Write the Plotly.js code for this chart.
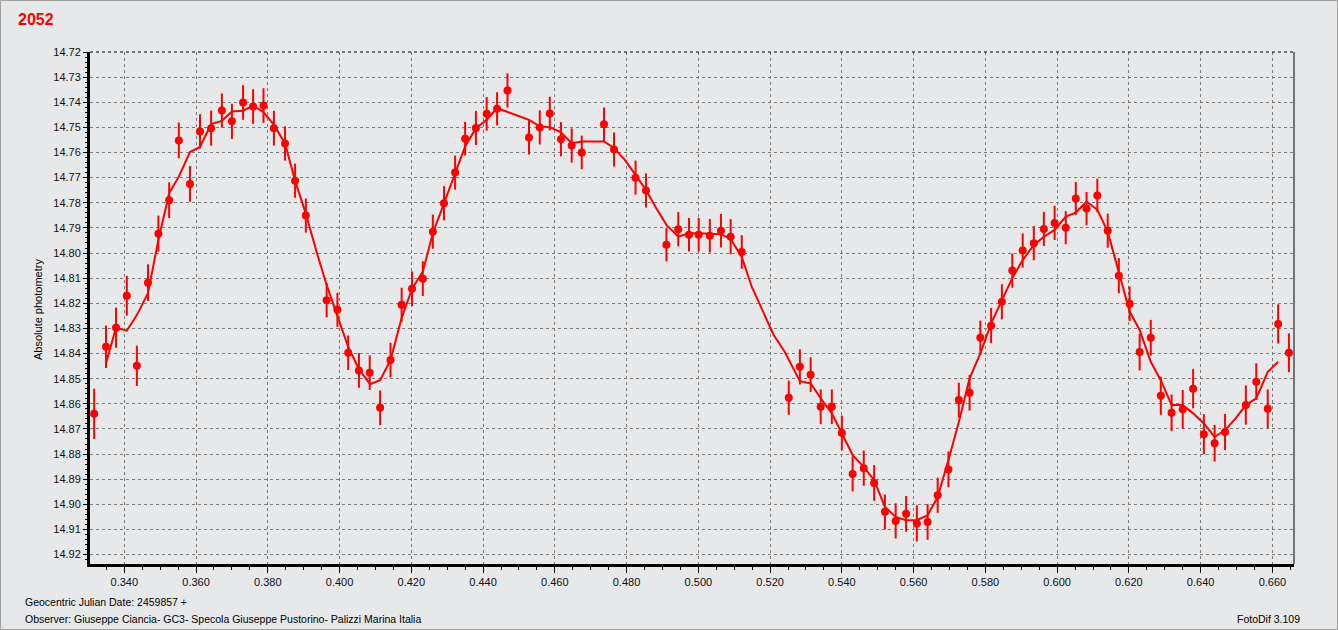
<!DOCTYPE html>
<html>
<head>
<meta charset="utf-8">
<script src="https://cdn.plot.ly/plotly-3.0.1.min.js"></script>
<style>
  html, body { margin: 0; padding: 0; background: #E7E8EA; }
  #chart { width: 1338px; height: 630px; }
</style>
</head>
<body>
<div id="chart"></div>
<script>
// Observed magnitudes (Geocentric JD - 2459857)
const obsJD = [
  0.3316, 0.3349, 0.3377, 0.3407, 0.3435, 0.3466, 0.3495, 0.3525, 0.3552, 0.3583,
  0.3611, 0.3642, 0.3672, 0.3700, 0.3731, 0.3759, 0.3788, 0.3817, 0.3848, 0.3876,
  0.3906, 0.3964, 0.3994, 0.4024, 0.4054, 0.4084, 0.4113, 0.4142, 0.4173, 0.4202,
  0.4232, 0.4260, 0.4291, 0.4322, 0.4350, 0.4380, 0.4410, 0.4439, 0.4468, 0.4528,
  0.4558, 0.4586, 0.4617, 0.4647, 0.4675, 0.4737, 0.4765, 0.4825, 0.4854, 0.4911,
  0.4944, 0.4974, 0.5001, 0.5032, 0.5063, 0.5090, 0.5121, 0.5252, 0.5283, 0.5313,
  0.5341, 0.5372, 0.5400, 0.5430, 0.5461, 0.5490, 0.5520, 0.5550, 0.5579, 0.5609,
  0.5639, 0.5667, 0.5697, 0.5726, 0.5756, 0.5786, 0.5816, 0.5846, 0.5875, 0.5904,
  0.5935, 0.5963, 0.5993, 0.6024, 0.6052, 0.6082, 0.6112, 0.6141, 0.6172, 0.6202,
  0.6230, 0.6261, 0.6289, 0.6319, 0.6350, 0.6379, 0.6409, 0.6439, 0.6468, 0.6526,
  0.6555, 0.6587, 0.6616, 0.6646
];
const obsMag = [
  14.8640, 14.8373, 14.8297, 14.8170, 14.8449, 14.8118, 14.7923, 14.7790, 14.7552, 14.7725,
  14.7516, 14.7503, 14.7433, 14.7476, 14.7401, 14.7417, 14.7413, 14.7503, 14.7564, 14.7712,
  14.7851, 14.8188, 14.8226, 14.8397, 14.8467, 14.8476, 14.8616, 14.8426, 14.8206, 14.8142,
  14.8102, 14.7915, 14.7802, 14.7680, 14.7545, 14.7502, 14.7446, 14.7426, 14.7353, 14.7540,
  14.7500, 14.7445, 14.7547, 14.7572, 14.7600, 14.7488, 14.7588, 14.7700, 14.7751, 14.7967,
  14.7905, 14.7927, 14.7927, 14.7931, 14.7911, 14.7935, 14.7996, 14.8576, 14.8453, 14.8484,
  14.8612, 14.8612, 14.8716, 14.8879, 14.8856, 14.8915, 14.9030, 14.9066, 14.9038, 14.9076,
  14.9070, 14.8964, 14.8861, 14.8585, 14.8556, 14.8337, 14.8289, 14.8194, 14.8070, 14.7990,
  14.7961, 14.7904, 14.7880, 14.7899, 14.7783, 14.7823, 14.7771, 14.7911, 14.8090, 14.8202,
  14.8394, 14.8337, 14.8568, 14.8636, 14.8622, 14.8540, 14.8721, 14.8757, 14.8712, 14.8605,
  14.8512, 14.8620, 14.8282, 14.8397
];
const obsErr = [
  0.0100, 0.0085, 0.0080, 0.0079, 0.0080, 0.0073, 0.0072, 0.0071, 0.0071, 0.0071,
  0.0068, 0.0070, 0.0068, 0.0070, 0.0069, 0.0069, 0.0069, 0.0069, 0.0068, 0.0068,
  0.0068, 0.0068, 0.0068, 0.0069, 0.0069, 0.0069, 0.0069, 0.0069, 0.0068, 0.0069,
  0.0069, 0.0068, 0.0068, 0.0068, 0.0067, 0.0068, 0.0067, 0.0066, 0.0068, 0.0068,
  0.0068, 0.0067, 0.0068, 0.0068, 0.0067, 0.0067, 0.0068, 0.0068, 0.0068, 0.0066,
  0.0068, 0.0067, 0.0067, 0.0067, 0.0067, 0.0070, 0.0067, 0.0068, 0.0070, 0.0069,
  0.0069, 0.0069, 0.0069, 0.0070, 0.0070, 0.0071, 0.0069, 0.0070, 0.0071, 0.0072,
  0.0071, 0.0070, 0.0071, 0.0069, 0.0071, 0.0068, 0.0070, 0.0070, 0.0068, 0.0068,
  0.0068, 0.0068, 0.0068, 0.0066, 0.0066, 0.0066, 0.0067, 0.0068, 0.0070, 0.0069,
  0.0073, 0.0071, 0.0076, 0.0073, 0.0077, 0.0078, 0.0080, 0.0073, 0.0072, 0.0078,
  0.0073, 0.0077, 0.0078, 0.0077
];

// Smoothed light curve
const fitJD = [
  0.3349, 0.3377, 0.3407, 0.3435, 0.3466, 0.3495, 0.3525, 0.3552, 0.3583, 0.3611,
  0.3642, 0.3672, 0.3700, 0.3731, 0.3759, 0.3788, 0.3817, 0.3848, 0.3876, 0.3906,
  0.3936, 0.3964, 0.3994, 0.4024, 0.4054, 0.4085, 0.4113, 0.4142, 0.4173, 0.4202,
  0.4232, 0.4260, 0.4291, 0.4322, 0.4350, 0.4380, 0.4410, 0.4439, 0.4468, 0.4497,
  0.4528, 0.4558, 0.4586, 0.4617, 0.4647, 0.4675, 0.4706, 0.4737, 0.4765, 0.4795,
  0.4825, 0.4854, 0.4882, 0.4911, 0.4944, 0.4974, 0.5001, 0.5032, 0.5063, 0.5090,
  0.5121, 0.5149, 0.5180, 0.5210, 0.5241, 0.5283, 0.5313, 0.5341, 0.5372, 0.5400,
  0.5430, 0.5461, 0.5490, 0.5520, 0.5550, 0.5579, 0.5609, 0.5639, 0.5667, 0.5697,
  0.5726, 0.5756, 0.5786, 0.5816, 0.5846, 0.5875, 0.5904, 0.5935, 0.5963, 0.5993,
  0.6024, 0.6052, 0.6082, 0.6112, 0.6141, 0.6172, 0.6202, 0.6230, 0.6261, 0.6289,
  0.6319, 0.6350, 0.6379, 0.6409, 0.6439, 0.6468, 0.6498, 0.6526, 0.6555, 0.6587,
  0.6616
];
const fitMag = [
  14.8439, 14.8297, 14.8309, 14.8247, 14.8160, 14.7948, 14.7762, 14.7696, 14.7598, 14.7578,
  14.7487, 14.7474, 14.7437, 14.7434, 14.7413, 14.7439, 14.7490, 14.7564, 14.7712, 14.7844,
  14.7996, 14.8127, 14.8251, 14.8373, 14.8462, 14.8522, 14.8506, 14.8426, 14.8259, 14.8142,
  14.8074, 14.7921, 14.7802, 14.7682, 14.7576, 14.7503, 14.7470, 14.7423, 14.7438, 14.7454,
  14.7470, 14.7496, 14.7499, 14.7520, 14.7563, 14.7556, 14.7556, 14.7556, 14.7582, 14.7629,
  14.7689, 14.7749, 14.7820, 14.7888, 14.7935, 14.7921, 14.7921, 14.7922, 14.7925, 14.7944,
  14.8016, 14.8135, 14.8235, 14.8326, 14.8394, 14.8510, 14.8519, 14.8578, 14.8638, 14.8718,
  14.8804, 14.8851, 14.8904, 14.9010, 14.9050, 14.9063, 14.9063, 14.9043, 14.8971, 14.8824,
  14.8672, 14.8499, 14.8399, 14.8280, 14.8187, 14.8100, 14.8028, 14.7968, 14.7935, 14.7908,
  14.7855, 14.7839, 14.7795, 14.7828, 14.7915, 14.8080, 14.8233, 14.8306, 14.8433, 14.8506,
  14.8605, 14.8605, 14.8638, 14.8678, 14.8732, 14.8705, 14.8657, 14.8605, 14.8578, 14.8473,
  14.8433
];

const chartTitle = '2052';
const yTitle = 'Absolute photometry';
const xNote = 'Geocentric Julian Date: 2459857 +';
const observer = 'Observer: Giuseppe Ciancia- GC3- Specola Giuseppe Pustorino- Palizzi Marina Italia';
const software = 'FotoDif 3.109';

const FONT = 'Liberation Sans, Arial, sans-serif';
const W = 1338, H = 630;
const L = 90, R = 1294, T = 52, B = 564;
const px = v => (v - L) / (R - L);
const py = v => (B - v) / (B - T);

const traces = [
  {
    x: fitJD, y: fitMag, type: 'scatter', mode: 'lines',
    line: { color: '#FF0000', width: 2 },
    hoverinfo: 'skip', showlegend: false
  },
  {
    x: obsJD, y: obsMag, type: 'scatter', mode: 'markers',
    marker: { color: '#FF0000', size: 8, symbol: 'circle' },
    error_y: { type: 'data', array: obsErr, visible: true, color: '#FF0000', thickness: 2, width: 0 },
    showlegend: false
  }
];

const layout = {
  width: W, height: H,
  paper_bgcolor: '#E7E8EA',
  plot_bgcolor: '#E7E8EA',
  margin: { l: L, r: W - R, t: T, b: H - B, pad: 0 },
  showlegend: false,
  font: { family: FONT, size: 11, color: '#101010' },
  title: {
    text: '<b>' + chartTitle + '</b>',
    xref: 'container', yref: 'container',
    x: 18 / W, xanchor: 'left', y: 1 - 19.5 / H, yanchor: 'middle',
    font: { family: FONT, size: 16, color: '#FF0000' }
  },
  xaxis: {
    range: [0.33044, 0.66602],
    tick0: 0.34, dtick: 0.02, tickformat: '.3f',
    ticks: 'outside', ticklen: 6, tickwidth: 1, tickcolor: '#000',
    showline: true, linecolor: '#000', linewidth: 3, mirror: false,
    showgrid: true, gridcolor: '#7A7A7A', gridwidth: 1, griddash: '3px,3px',
    zeroline: false,
    tickfont: { family: FONT, size: 11, color: '#101010' },
    minor: { tick0: 0.34, dtick: 0.005, ticks: 'outside', ticklen: 3, tickcolor: '#000', showgrid: false }
  },
  yaxis: {
    range: [14.92375, 14.72],
    tick0: 14.72, dtick: 0.01, tickformat: '.2f',
    ticks: 'outside', ticklen: 4, tickwidth: 1, tickcolor: '#000',
    showline: true, linecolor: '#000', linewidth: 3, mirror: false,
    showgrid: true, gridcolor: '#7A7A7A', gridwidth: 1, griddash: '3px,3px',
    zeroline: false,
    tickfont: { family: FONT, size: 11, color: '#101010' },
    minor: { tick0: 14.72, dtick: 0.002, ticks: 'outside', ticklen: 2, tickcolor: '#000', showgrid: false }
  },
  shapes: [
    // outer frame
    { type: 'rect', xref: 'paper', yref: 'paper', x0: px(0.5), x1: px(W - 0.5), y0: py(H - 0.5), y1: py(0.5),
      line: { color: '#A0A0A0', width: 1 }, fillcolor: 'rgba(0,0,0,0)', layer: 'below' },
    // top dashed border
    { type: 'line', xref: 'paper', yref: 'paper', x0: 0, x1: 1, y0: 1, y1: 1,
      line: { color: '#000', width: 1, dash: '3px,3px' } },
    // right border
    { type: 'line', xref: 'paper', yref: 'paper', x0: 1, x1: 1, y0: 0, y1: 1,
      line: { color: '#000', width: 1 } }
  ],
  annotations: [
    { text: yTitle, xref: 'paper', yref: 'paper', x: px(38), y: py(310), xanchor: 'center', yanchor: 'middle',
      textangle: -90, showarrow: false, font: { family: FONT, size: 11, color: '#000' } },
    { text: xNote, xref: 'paper', yref: 'paper', x: px(23), y: py(602), xanchor: 'left', yanchor: 'middle',
      showarrow: false, font: { family: FONT, size: 10.5, color: '#000' } },
    { text: observer, xref: 'paper', yref: 'paper', x: px(23), y: py(618.5), xanchor: 'left', yanchor: 'middle',
      showarrow: false, font: { family: FONT, size: 10.5, color: '#000' } },
    { text: software, xref: 'paper', yref: 'paper', x: px(1302), y: py(618.5), xanchor: 'right', yanchor: 'middle',
      showarrow: false, font: { family: FONT, size: 10.5, color: '#000' } }
  ]
};

Plotly.newPlot('chart', traces, layout, { displayModeBar: false, staticPlot: true });
</script>
</body>
</html>
